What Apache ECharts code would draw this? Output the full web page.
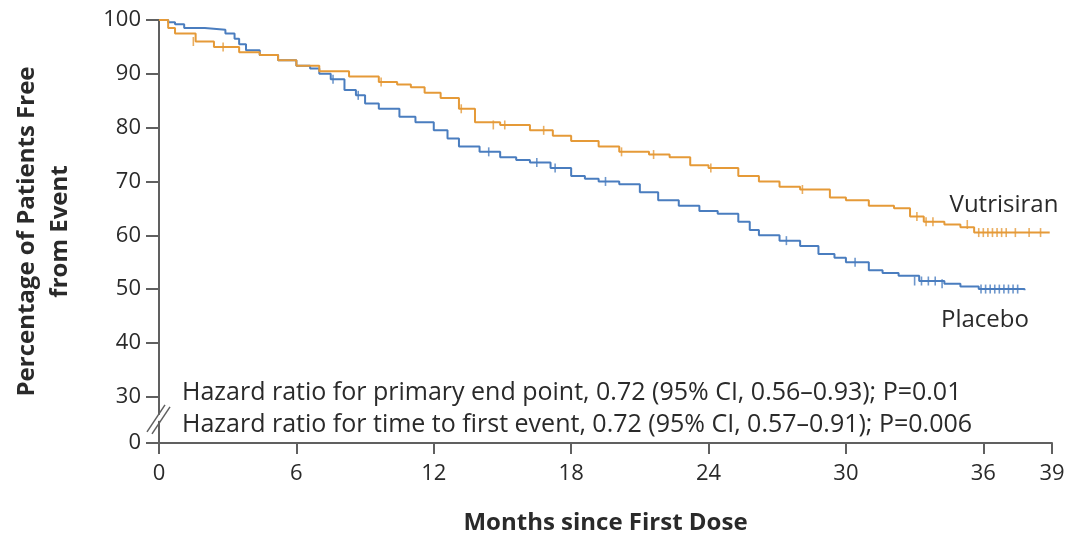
<!DOCTYPE html>
<html>
<head>
<meta charset="utf-8">
<script src="https://cdn.jsdelivr.net/npm/echarts@6/dist/echarts.min.js"></script>
<style>html,body{margin:0;padding:0;background:#fff}#c{width:1071px;height:535px}</style>
</head>
<body>
<div id="c"></div>
<script>
// ---- data ----
const xTicks = [0, 6, 12, 18, 24, 30, 36, 39];
const yTicks = [30, 40, 50, 60, 70, 80, 90, 100];
const yBreakValue = 21.4; // axis position standing for 0 (broken axis)

const placeboTimes = [0, 0.4, 0.7, 1.1, 2.0, 2.9, 3.3, 3.5, 3.8, 4.4, 5.2, 6.0, 6.6, 7.0, 7.5, 8.1, 8.6, 9.0, 9.6, 10.5, 11.2, 12.0, 12.6, 13.1, 14.0, 14.9, 15.6, 16.2, 17.1, 18.0, 18.6, 19.2, 20.1, 21.0, 21.8, 22.7, 23.6, 24.4, 25.3, 25.8, 26.2, 27.1, 28.0, 28.8, 29.5, 30.0, 31.0, 31.6, 32.3, 33.2, 34.3, 35.0, 35.8, 37.8];
const placeboValues = [100, 99.6, 99.2, 98.5, 98.2, 97.5, 96.5, 95.5, 94.4, 93.5, 92.5, 91.5, 91.0, 90.0, 89.0, 87.0, 86.0, 84.5, 83.5, 82.0, 81.0, 79.5, 78.0, 76.5, 75.5, 74.5, 74.0, 73.5, 72.5, 71.0, 70.5, 70.0, 69.5, 68.0, 66.5, 65.5, 64.5, 64.0, 62.5, 61.0, 60.0, 59.0, 58.0, 56.5, 55.8, 55.0, 53.5, 53.0, 52.5, 51.5, 51.0, 50.5, 50.0, 49.8];

const vutrisiranTimes = [0, 0.4, 0.7, 1.6, 2.4, 3.5, 4.4, 5.2, 6.0, 7.0, 8.3, 9.6, 10.4, 11.0, 11.6, 12.3, 13.1, 13.8, 14.9, 16.2, 17.2, 18.0, 19.2, 20.1, 21.4, 22.3, 23.2, 24.0, 25.3, 26.2, 27.1, 28.0, 29.3, 30.0, 31.0, 32.1, 32.8, 33.4, 34.3, 35.0, 35.6, 38.9];
const vutrisiranValues = [100, 98.5, 97.5, 96.0, 95.0, 94.0, 93.5, 92.5, 91.5, 90.5, 89.5, 88.5, 88.0, 87.5, 86.5, 85.5, 83.5, 81.0, 80.5, 79.5, 78.5, 77.5, 76.5, 75.5, 75.0, 74.5, 73.0, 72.5, 71.0, 70.0, 69.0, 68.5, 67.0, 66.5, 65.5, 65.0, 63.5, 62.5, 62.0, 61.5, 60.5, 60.5];

const placeboCensorTimes = [7.6, 8.7, 14.4, 16.5, 17.3, 19.5, 27.4, 30.4, 33.0, 33.3, 33.6, 33.9, 34.2, 35.9, 36.1, 36.3, 36.5, 36.7, 36.9, 37.1, 37.3, 37.5];
const placeboCensorValues = [89.0, 86.0, 75.5, 73.5, 72.5, 70.0, 59.0, 55.0, 51.5, 51.5, 51.5, 51.5, 51.0, 50.0, 50.0, 50.0, 50.0, 50.0, 50.0, 50.0, 50.0, 50.0];
const vutrisiranCensorTimes = [1.5, 2.8, 9.7, 13.2, 14.6, 15.1, 16.8, 20.2, 21.6, 24.1, 28.1, 33.1, 33.5, 33.8, 35.3, 35.8, 36.0, 36.2, 36.4, 36.6, 36.8, 37.0, 37.4, 38.0, 38.5];
const vutrisiranCensorValues = [96.0, 95.0, 88.5, 83.5, 80.5, 80.5, 79.5, 75.5, 75.0, 72.5, 68.5, 63.5, 62.5, 62.5, 62.0, 60.5, 60.5, 60.5, 60.5, 60.5, 60.5, 60.5, 60.5, 60.5, 60.5];

const seriesNames = ['Vutrisiran', 'Placebo'];
const annotations = [
  'Hazard ratio for primary end point, 0.72 (95% CI, 0.56\u20130.93); P=0.01',
  'Hazard ratio for time to first event, 0.72 (95% CI, 0.57\u20130.91); P=0.006'
];

// ---- chart ----
const FONT = '"Open Sans", "Noto Sans", sans-serif';
const ORANGE = '#E59A38';
const BLUE = '#4A7DBF';
const AXIS = '#606060';
const TXT = '#2a2a2a';

const zip = (a, b) => a.map((v, i) => [v, b[i]]);
const chart = echarts.init(document.getElementById('c'), null, {renderer: 'canvas'});

chart.setOption({
  animation: false,
  backgroundColor: '#fff',
  grid: {left: 159, right: 19, top: 20, bottom: 92, containLabel: false, outerBoundsMode: 'none'},
  xAxis: {
    type: 'value', min: 0, max: 39,
    axisLine: {show: true, lineStyle: {color: AXIS, width: 2}},
    axisTick: {show: true, customValues: xTicks, length: 11, lineStyle: {color: AXIS, width: 2}},
    axisLabel: {show: true, customValues: xTicks, color: TXT, fontSize: 22, fontFamily: FONT, margin: 20},
    splitLine: {show: false},
    name: 'Months since First Dose', nameLocation: 'middle', nameGap: 68,
    nameTextStyle: {color: TXT, fontSize: 24, fontWeight: 'bold', fontFamily: FONT}
  },
  yAxis: {
    type: 'value', min: yBreakValue, max: 100,
    axisLine: {show: true, lineStyle: {color: AXIS, width: 2}},
    axisTick: {show: true, customValues: [yBreakValue].concat(yTicks), length: 13, lineStyle: {color: AXIS, width: 2}},
    axisLabel: {show: true, customValues: [yBreakValue].concat(yTicks), color: TXT, fontSize: 22, fontFamily: FONT, margin: 18,
      formatter: v => (v < 25 ? '0' : String(Math.round(v)))},
    splitLine: {show: false},
    name: 'Percentage of Patients Free\nfrom Event', nameLocation: 'middle', nameGap: 82, nameRotate: 90,
    nameTextStyle: {color: TXT, fontSize: 24, fontWeight: 'bold', fontFamily: FONT, lineHeight: 33}
  },
  series: [
    {name: seriesNames[0], type: 'line', step: 'end', showSymbol: false, symbol: 'none',
     data: zip(vutrisiranTimes, vutrisiranValues), lineStyle: {color: ORANGE, width: 2}, z: 3},
    {name: seriesNames[1], type: 'line', step: 'end', showSymbol: false, symbol: 'none',
     data: zip(placeboTimes, placeboValues), lineStyle: {color: BLUE, width: 2}, z: 2},
    {type: 'scatter', data: zip(vutrisiranCensorTimes, vutrisiranCensorValues), symbol: 'rect', symbolSize: [1.6, 9],
     itemStyle: {color: ORANGE}, silent: true, z: 4},
    {type: 'scatter', data: zip(placeboCensorTimes, placeboCensorValues), symbol: 'rect', symbolSize: [1.6, 9],
     itemStyle: {color: BLUE}, silent: true, z: 4}
  ]
});

function drawOverlays() {
  const p30 = chart.convertToPixel({gridIndex: 0}, [0, 30]);
  const p0 = chart.convertToPixel({gridIndex: 0}, [0, yBreakValue]);
  const midY = (p30[1] + p0[1]) / 2 - 1;
  const ax = p0[0];
  chart.setOption({
    graphic: [
      {type: 'rect', shape: {x: ax - 3, y: midY - 4, width: 6, height: 6}, style: {fill: '#fff'}, z: 100},
      {type: 'line', shape: {x1: ax - 12, y1: midY + 13, x2: ax + 6, y2: midY - 14}, style: {stroke: AXIS, lineWidth: 1.5}, z: 101},
      {type: 'line', shape: {x1: ax - 7, y1: midY + 15, x2: ax + 11, y2: midY - 12}, style: {stroke: AXIS, lineWidth: 1.5}, z: 101},
      {type: 'text', x: 182, y: 393, style: {text: annotations[0], fill: TXT, font: '25px ' + FONT, textVerticalAlign: 'middle'}, z: 50},
      {type: 'text', x: 182, y: 425, style: {text: annotations[1], fill: TXT, font: '25px ' + FONT, textVerticalAlign: 'middle'}, z: 50},
      {type: 'text', x: 1004, y: 205, style: {text: seriesNames[0], fill: TXT, font: '24px ' + FONT, textAlign: 'center', textVerticalAlign: 'middle'}, z: 50},
      {type: 'text', x: 985, y: 320, style: {text: seriesNames[1], fill: TXT, font: '24px ' + FONT, textAlign: 'center', textVerticalAlign: 'middle'}, z: 50}
    ]
  });
}
drawOverlays();
</script>
</body>
</html>
